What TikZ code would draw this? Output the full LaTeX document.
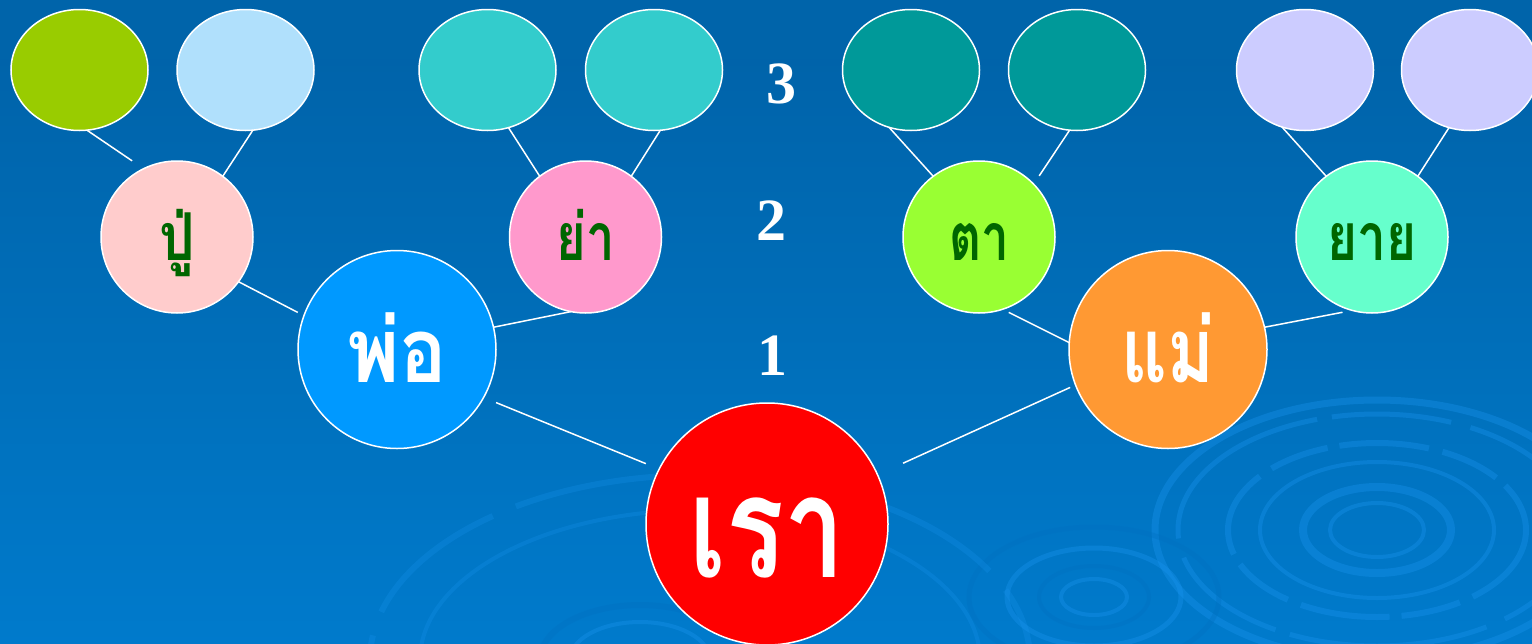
\documentclass[tikz,border=0pt]{standalone}
\usepackage{fontspec}
\usepackage{graphicx}
\setmainfont{Liberation Serif}
\newfontfamily\thaifont[Script=Thai]{Loma}
\usetikzlibrary{shapes.geometric}
\newcommand{\cnd}[2]{\scalebox{#1}[1]{#2}}
\definecolor{cg1}{HTML}{99CC00}
\definecolor{cg2}{HTML}{B0E0FC}
\definecolor{cg3}{HTML}{33CCCC}
\definecolor{cg5}{HTML}{009999}
\definecolor{cg7}{HTML}{CCCCFF}
\definecolor{cpu}{HTML}{FFCCCC}
\definecolor{cya}{HTML}{FF99CC}
\definecolor{cta}{HTML}{99FF33}
\definecolor{cyai}{HTML}{66FFCC}
\definecolor{cpo}{HTML}{0099FF}
\definecolor{cmae}{HTML}{FF9933}
\definecolor{crao}{HTML}{FF0000}
\definecolor{dkgreen}{HTML}{006600}
\definecolor{ripL}{HTML}{1A95F0}
\definecolor{ripD}{HTML}{0070C0}
\pgfdeclareverticalshading{bgshade}{100bp}{rgb(0bp)=(0,0.53,0.878); rgb(45bp)=(0,0.44,0.737); rgb(70bp)=(0,0.39,0.667); rgb(100bp)=(0,0.404,0.675)}
\begin{document}
\begin{tikzpicture}[x=1pt,y=-1pt,
  bub/.style={ellipse, draw=white, line width=1.5pt, inner sep=0pt, outer sep=0pt},
  gthree/.style={bub, minimum width=137pt, minimum height=121pt},
  gtwo/.style={bub, minimum width=152pt, minimum height=152pt},
  gone/.style={bub, minimum width=198pt, minimum height=198pt},
  gzero/.style={bub, minimum width=242pt, minimum height=242pt},
  link/.style={draw=white, line width=1.5pt},
  gtxt/.style={font=\thaifont\bfseries\fontsize{66}{66}\selectfont, text=dkgreen, inner sep=0pt, anchor=base},
  wtxt/.style={font=\thaifont\bfseries\fontsize{90}{90}\selectfont, text=white, inner sep=0pt, anchor=base},
  num/.style={font=\bfseries\fontsize{60}{60}\selectfont, text=white, inner sep=0pt, anchor=base},
  ripl/.style={draw=ripL, opacity=0.35},
  ripd/.style={draw=ripD, opacity=0.35}]
\useasboundingbox (0,0) rectangle (1532,643);
\clip (0,0) rectangle (1532,643);
\shade[shading=bgshade] (0,0) rectangle (1532,643);
% ripples
\draw[ripl, line width=7pt] (1377,530) ellipse [x radius=222, y radius=130];
\draw[ripl, line width=5pt, dash pattern=on 120pt off 20pt on 200pt off 15pt] (1377,530) ellipse [x radius=199, y radius=116];
\draw[ripl, line width=6pt, dash pattern=on 90pt off 14pt on 60pt off 12pt] (1377,530) ellipse [x radius=149, y radius=87];
\draw[ripl, line width=4pt] (1377,530) ellipse [x radius=117, y radius=68];
\draw[ripl, line width=8pt] (1377,530) ellipse [x radius=74, y radius=43];
\draw[ripl, line width=4pt] (1377,530) ellipse [x radius=47, y radius=27];
\draw[ripd, line width=5pt] (1094,597) ellipse [x radius=125, y radius=70];
\draw[ripl, line width=5pt] (1094,597) ellipse [x radius=87, y radius=49];
\draw[ripd, line width=4pt] (1094,597) ellipse [x radius=55, y radius=31];
\draw[ripl, line width=4pt] (1094,597) ellipse [x radius=33, y radius=18];
\draw[ripl, line width=6pt, opacity=0.25, dash pattern=on 150pt off 25pt] (700,660) ellipse [x radius=330, y radius=185];
\draw[ripl, line width=4pt, opacity=0.25] (700,660) ellipse [x radius=280, y radius=150];
\draw[ripd, line width=6pt] (640,660) ellipse [x radius=100, y radius=55];
\draw[ripl, line width=4pt] (640,660) ellipse [x radius=70, y radius=38];
% generation 3
\node[gthree, fill=cg1] (g1) at (79.5,70) {};
\node[gthree, fill=cg2] (g2) at (245.5,70) {};
\node[gthree, fill=cg3] (g3) at (487.5,70) {};
\node[gthree, fill=cg3] (g4) at (654,70) {};
\node[gthree, fill=cg5] (g5) at (911,70) {};
\node[gthree, fill=cg5] (g6) at (1077,70) {};
\node[gthree, fill=cg7] (g7) at (1305,70) {};
\node[gthree, fill=cg7] (g8) at (1470,70) {};
% generation 2
\node[gtwo, fill=cpu] (pu) at (177,237) {};
\node[gtwo, fill=cya] (ya) at (585.5,237) {};
\node[gtwo, fill=cta] (ta) at (979,237) {};
\node[gtwo, fill=cyai] (yai) at (1372,237) {};
% generation 1
\node[gone, fill=cpo] (po) at (397,349.5) {};
\node[gone, fill=cmae] (mae) at (1168,349.5) {};
% self
\node[gzero, fill=crao] (rao) at (767,524) {};
% connectors
\draw[link, shorten >=14pt] (g1.-83) -- (pu.116);
\draw[link] (g2.-83) -- (pu.53);
\draw[link] (g3.-70) -- (ya.127);
\draw[link] (g4.-84) -- (ya.53);
\draw[link] (g5.-111) -- (ta.127);
\draw[link, shorten >=10pt] (g6.-97) -- (ta.44);
\draw[link] (g7.-112) -- (yai.127);
\draw[link] (g8.-110) -- (yai.53);
\draw[link, shorten >=7pt] (pu.-36) -- (po.160);
\draw[link] (ya.-101) -- (po.13);
\draw[link, shorten <=13.5pt, shorten >=14.4pt] (po.-29.5) -- (rao.153);
\draw[link, shorten <=7pt] (ta.-72) -- (mae.176);
\draw[link, shorten >=10pt] (mae.13) -- (yai.-105);
\draw[link, shorten <=28pt, shorten >=6pt] (rao.24) -- (mae.-159);
% labels
\node[gtxt] (tpu) at (177,260) {\cnd{0.85}{ปู่}};
\node[gtxt] (tya) at (585.5,260) {\cnd{0.77}{ย่า}};
\node[gtxt] (tta) at (979,260) {\cnd{0.75}{ตา}};
\node[gtxt] (tyai) at (1372,260) {\cnd{0.78}{ยาย}};
\node[wtxt] (tpo) at (397,382) {\cnd{0.88}{พ่อ}};
\node[wtxt] (tmae) at (1168,382) {\cnd{0.79}{แม่}};
\node[wtxt, font=\thaifont\bfseries\fontsize{142}{142}\selectfont] (trao) at (767,577) {\cnd{0.76}{เรา}};
\node[num] (n3) at (781,103) {3};
\node[num] (n2) at (771,240) {2};
\node[num] (n1) at (772,375) {1};
\end{tikzpicture}
\end{document}
